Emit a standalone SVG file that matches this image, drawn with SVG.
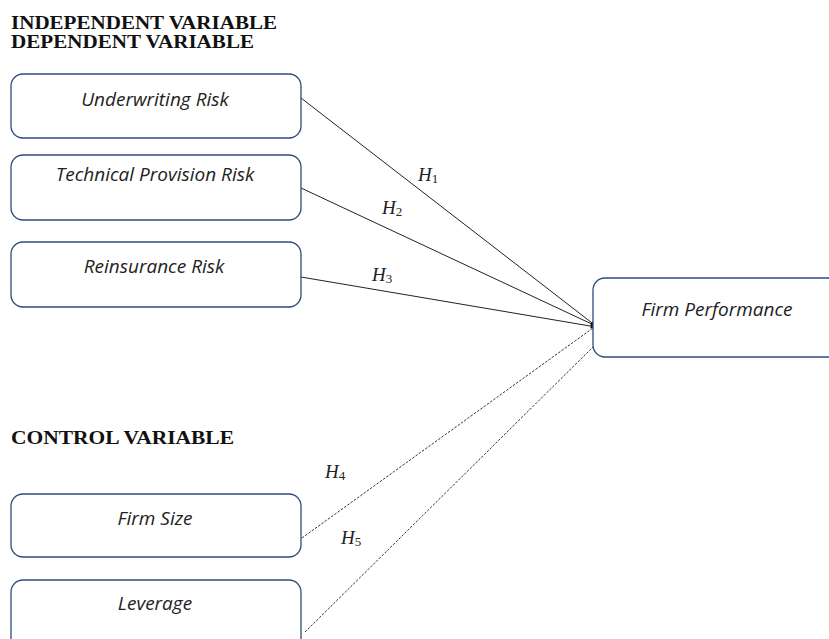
<svg xmlns="http://www.w3.org/2000/svg" width="829" height="639" viewBox="0 0 829 639">
<style>
.hdr{font-family:"Liberation Serif",serif;font-weight:bold;font-size:18px;fill:#111}
.box{fill:#fff;stroke:#2f4b7c;stroke-width:1.3}
.lbl{font-family:"Open Sans","Liberation Sans",sans-serif;font-style:italic;font-size:19px;fill:#222;text-anchor:middle}
.h{font-family:"Liberation Serif",serif;font-style:italic;font-size:19px;fill:#222}
.sub{font-style:normal;font-size:13px}
.solid{stroke:#222;stroke-width:1;fill:none}
.dash{stroke:#333;stroke-width:1;fill:none;stroke-dasharray:2.5 1.5}
</style>
<defs>
<marker id="arr" viewBox="0 0 10 10" refX="9" refY="5" markerWidth="6" markerHeight="6" orient="auto">
<path d="M0,1 L10,5 L0,9 z" fill="#111"/>
</marker>
</defs>
<rect width="829" height="639" fill="#fff"/>
<text class="hdr" x="11" y="29" textLength="266" lengthAdjust="spacingAndGlyphs">INDEPENDENT VARIABLE</text>
<text class="hdr" x="11" y="48" textLength="243" lengthAdjust="spacingAndGlyphs">DEPENDENT VARIABLE</text>
<text class="hdr" x="11" y="444" textLength="223" lengthAdjust="spacingAndGlyphs">CONTROL VARIABLE</text>

<g id="connectors">
<line class="solid" x1="301" y1="98" x2="596" y2="326" marker-end="url(#arr)"/>
<line class="solid" x1="301" y1="188" x2="596" y2="326" marker-end="url(#arr)"/>
<line class="solid" x1="301" y1="277" x2="596" y2="327" marker-end="url(#arr)"/>
<line class="dash" x1="302" y1="538" x2="593" y2="328"/>
<line class="dash" x1="305" y1="632" x2="593" y2="347"/>
<text class="h" x="418" y="181">H<tspan class="sub" dy="2">1</tspan></text>
<text class="h" x="382" y="214">H<tspan class="sub" dy="2">2</tspan></text>
<text class="h" x="372" y="281">H<tspan class="sub" dy="2">3</tspan></text>
<text class="h" x="325" y="478">H<tspan class="sub" dy="2">4</tspan></text>
<text class="h" x="341" y="544">H<tspan class="sub" dy="2">5</tspan></text>
</g>

<g id="underwriting">
<rect class="box" x="11" y="74" width="290" height="64" rx="12"/>
<text class="lbl" x="155" y="106">Underwriting Risk</text>
</g>
<g id="technical">
<rect class="box" x="11" y="155" width="290" height="65" rx="12"/>
<text class="lbl" x="155" y="181">Technical Provision Risk</text>
</g>
<g id="reinsurance">
<rect class="box" x="11" y="242" width="290" height="65" rx="12"/>
<text class="lbl" x="154" y="273">Reinsurance Risk</text>
</g>
<g id="firmperf">
<rect class="box" x="593" y="278" width="250" height="79" rx="12"/>
<text class="lbl" x="717" y="316">Firm Performance</text>
</g>
<g id="firmsize">
<rect class="box" x="11" y="494" width="290" height="63" rx="12"/>
<text class="lbl" x="155" y="525">Firm Size</text>
</g>
<g id="leverage">
<rect class="box" x="11" y="580" width="290" height="70" rx="12"/>
<text class="lbl" x="155" y="610">Leverage</text>
</g>
</svg>
